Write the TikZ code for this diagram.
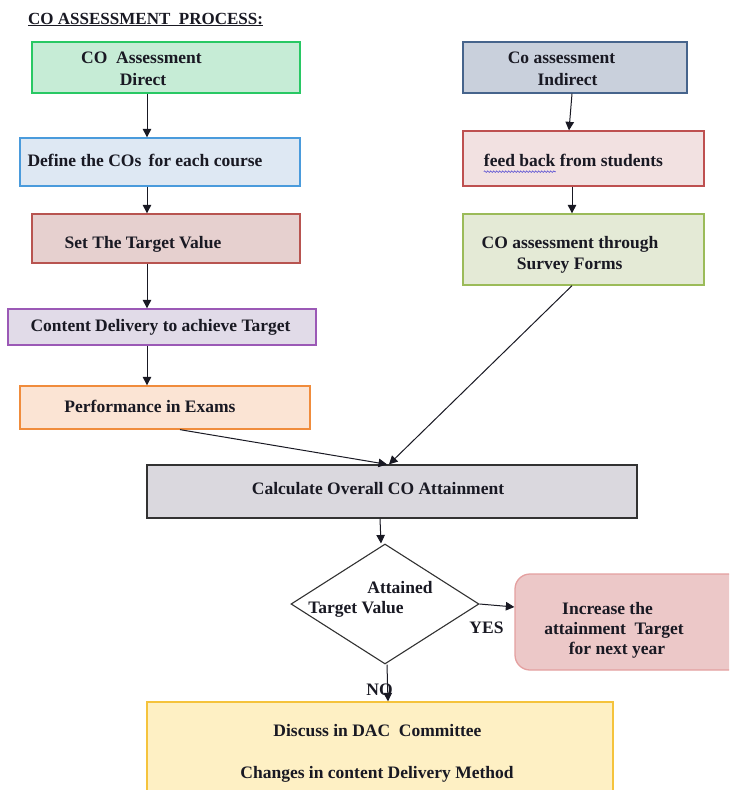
\documentclass[tikz,border=0pt]{standalone}
\usepackage{fontspec}
\setmainfont{Liberation Serif}
\usetikzlibrary{arrows.meta,shapes.geometric,decorations.pathmorphing}

\definecolor{ink}{RGB}{25,25,35}
\definecolor{greenF}{RGB}{198,236,214}  \definecolor{greenD}{RGB}{40,200,100}
\definecolor{blueF}{RGB}{222,232,243}   \definecolor{blueD}{RGB}{74,155,220}
\definecolor{redF}{RGB}{230,208,207}    \definecolor{redD}{RGB}{184,84,80}
\definecolor{purF}{RGB}{225,219,232}    \definecolor{purD}{RGB}{155,89,182}
\definecolor{orgF}{RGB}{251,228,212}    \definecolor{orgD}{RGB}{240,140,60}
\definecolor{slateF}{RGB}{201,208,220}  \definecolor{slateD}{RGB}{70,100,140}
\definecolor{pinkF}{RGB}{242,225,225}   \definecolor{pinkD}{RGB}{190,80,80}
\definecolor{oliveF}{RGB}{228,234,214}  \definecolor{oliveD}{RGB}{155,187,89}
\definecolor{greyF}{RGB}{218,216,222}   \definecolor{greyD}{RGB}{50,50,50}
\definecolor{roseF}{RGB}{236,200,200}   \definecolor{roseD}{RGB}{228,160,160}
\definecolor{yelF}{RGB}{254,240,196}    \definecolor{yelD}{RGB}{245,195,60}
\definecolor{squiggle}{RGB}{90,80,210}

\tikzset{
  box/.style={draw, line width=1.3pt, inner sep=0pt},
  txt/.style={font=\fontsize{17.5}{21}\selectfont\bfseries, text=ink, inner sep=0pt, anchor=base},
  flow/.style={draw=ink, line width=1pt, -{Triangle[length=8.5pt,width=8.5pt]}},
}

\begin{document}
\begin{tikzpicture}[x=1pt,y=-1pt]
\useasboundingbox (0,0) rectangle (729,790);
\clip (0,0) rectangle (729,790);

% heading
\node[txt, anchor=base west, font=\fontsize{17}{20}\selectfont\bfseries] (heading) at (28,24)
  {\underline{CO ASSESSMENT\ \ PROCESS:}};

% left column: direct assessment
\node[box, fill=greenF, draw=greenD, minimum width=268, minimum height=51] (direct) at (166,67.5) {};
\node[txt] (direct1) at (141.5,63) {CO\ \ Assessment};
\node[txt] (direct2) at (143,85) {Direct};

\node[box, fill=blueF, draw=blueD, minimum width=280, minimum height=48] (define) at (160,162) {};
\node[txt] (define1) at (145,166.5) {Define the COs\kern3pt\ for each course};

\node[box, fill=redF, draw=redD, minimum width=268, minimum height=49] (target) at (166,238.5) {};
\node[txt] (target1) at (143,248) {Set The Target Value};

\node[box, fill=purF, draw=purD, minimum width=308, minimum height=36] (delivery) at (162,327) {};
\node[txt] (delivery1) at (160.5,331) {Content Delivery to achieve Target};

\node[box, fill=orgF, draw=orgD, minimum width=290, minimum height=43] (exams) at (165,407.5) {};
\node[txt] (exams1) at (150,412) {Performance in Exams};

% right column: indirect assessment
\node[box, fill=slateF, draw=slateD, minimum width=224, minimum height=51] (indirect) at (575,67.5) {};
\node[txt] (indirect1) at (561.5,63.3) {Co assessment};
\node[txt] (indirect2) at (567.5,85) {Indirect};

\node[box, fill=pinkF, draw=pinkD, minimum width=241, minimum height=55] (feed) at (583.5,158.5) {};
\node[txt] (feed1) at (573.5,166.7) {feed back from students};
\draw[squiggle, line width=0.6pt, decorate, decoration={snake, amplitude=0.8pt, segment length=3pt}]
  ([yshift=-5pt]feed1.base west) -- ++(72,0);

\node[box, fill=oliveF, draw=oliveD, minimum width=241, minimum height=71] (survey) at (583.5,249.5) {};
\node[txt] (survey1) at (570,248.3) {CO assessment\ through};
\node[txt] (survey2) at (569.7,269.3) {Survey Forms};

% merge and decision
\node[box, fill=greyF, draw=greyD, minimum width=490, minimum height=53] (calc) at (392,491.5) {};
\node[txt] (calc1) at (378,494) {Calculate Overall CO Attainment};

\node[diamond, draw=greyD, line width=1.1pt, fill=white, inner sep=0pt,
      minimum width=188, minimum height=120] (decide) at (385,604) {};
\node[txt] (decide1) at (400,593.3) {Attained};
\node[txt] (decide2) at (356,613.3) {Target Value};

\node[box, fill=roseF, draw=roseD, rounded corners=15pt, minimum width=230, minimum height=96] (raise) at (630,622) {};
\node[txt] (raise1) at (607.5,614) {Increase the};
\node[txt] (raise2) at (614,634.3) {attainment\ \ Target};
\node[txt] (raise3) at (617,654) {for next year};

\node[box, fill=yelF, draw=yelD, minimum width=466, minimum height=98] (dac) at (380,751) {};
\node[txt] (dac1) at (377.5,736.7) {Discuss in DAC\ \ Committee};
\node[txt] (dac2) at (377,778.3) {Changes in content Delivery Method};

\node[txt] (yes) at (486.5,633.3) {YES};
\node[txt] (no) at (379.5,695) {NO};

% connectors
\draw[flow] ([xshift=-19pt]direct.south) -- ([xshift=-13pt]define.north);
\draw[flow] ([xshift=-13pt]define.south) -- ([xshift=-19pt]target.north);
\draw[flow] ([xshift=-19pt]target.south) -- ([xshift=-15pt]delivery.north);
\draw[flow] ([xshift=-15pt]delivery.south) -- ([xshift=-18pt]exams.north);
\draw[flow] ([xshift=15pt]exams.south) -- ([xshift=-5pt]calc.north);

\draw[flow] ([xshift=-3pt]indirect.south) -- ([xshift=-14.5pt]feed.north);
\draw[flow] ([xshift=-11.5pt]feed.south) -- ([xshift=-11.5pt]survey.north);
\draw[flow] ([xshift=-11.5pt]survey.south) -- ([xshift=-3pt]calc.north);

\draw[flow] ([xshift=-12pt]calc.south) -- ([xshift=-4pt]decide.north);
\draw[flow] (decide.east) -- ([yshift=15pt]raise.west);
\draw[flow] ([xshift=2pt]decide.south) -- ([xshift=8pt]dac.north);
\end{tikzpicture}
\end{document}
